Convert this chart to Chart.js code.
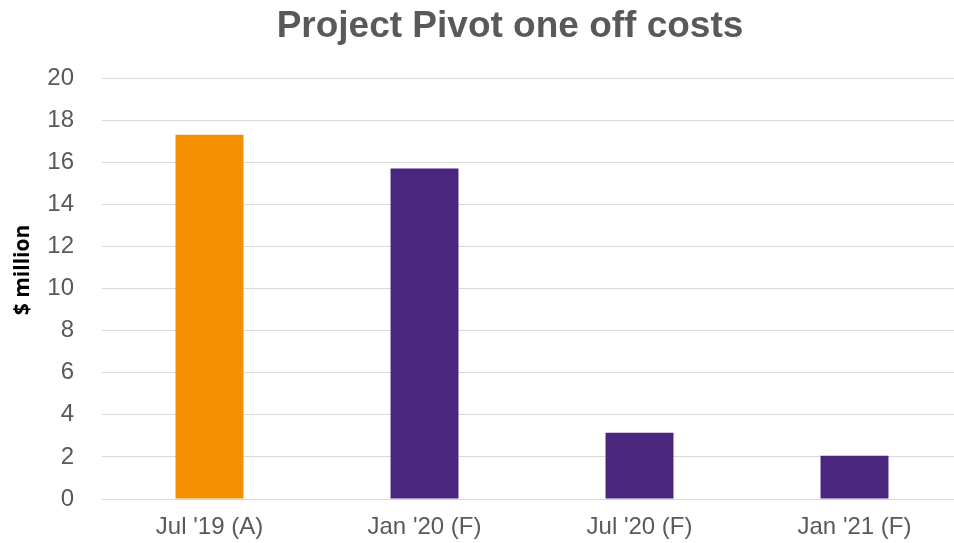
<!DOCTYPE html>
<html>
<head>
<meta charset="utf-8">
<script src="https://cdn.jsdelivr.net/npm/chart.js@4/dist/chart.umd.min.js"></script>
<style>
  html, body { margin: 0; padding: 0; background: #ffffff; overflow: hidden; width: 954px; height: 543px; }
  #wrap { width: 954px; height: 543px; overflow: hidden; position: relative; }
  canvas { display: block; }
</style>
</head>
<body>
<div id="wrap"><canvas id="c" width="962" height="543"></canvas></div>
<script>
const chartTitle = "Project Pivot one off costs";
const yAxisTitle = "$ million";
const categories = ["Jul '19 (A)", "Jan '20 (F)", "Jul '20 (F)", "Jan '21 (F)"];
const costs = [17.3, 15.7, 3.15, 2.05];
const yMin = 0, yMax = 20, yStep = 2;

const actualColor = "#F29000";
const forecastColor = "#4A267C";
const barColors = categories.map(c => c.indexOf("(A)") >= 0 ? actualColor : forecastColor);

// Draws the chart title and the vertical axis title as canvas text
const textTitles = {
  id: "textTitles",
  afterDraw(chart, args, opts) {
    const ctx = chart.ctx;
    ctx.save();
    ctx.fillStyle = "#595959";
    ctx.font = "bold 37px 'Liberation Sans', Arial, sans-serif";
    ctx.textAlign = "center";
    ctx.textBaseline = "alphabetic";
    ctx.fillText(opts.title, opts.titleX, opts.titleBaseline);

    ctx.fillStyle = "#000000";
    ctx.font = "bold 21px 'Open Sans', 'Noto Sans', sans-serif";
    ctx.translate(opts.yTitleX, opts.yTitleY);
    ctx.rotate(-Math.PI / 2);
    ctx.textAlign = "center";
    ctx.textBaseline = "middle";
    ctx.fillText(opts.yTitle, 0, 0);
    ctx.restore();
  }
};

new Chart(document.getElementById("c"), {
  type: "bar",
  data: {
    labels: categories,
    datasets: [{
      data: costs,
      backgroundColor: barColors,
      borderWidth: 0,
      barPercentage: 0.316,
      categoryPercentage: 1.0
    }]
  },
  plugins: [textTitles],
  options: {
    responsive: false,
    animation: false,
    devicePixelRatio: 1,
    layout: { padding: { left: 0, right: 0, top: 78, bottom: 1 } },
    plugins: {
      legend: { display: false },
      tooltip: { enabled: false },
      title: { display: false },
      textTitles: {
        title: chartTitle,
        titleX: 510,
        titleBaseline: 37,
        yTitle: yAxisTitle,
        yTitleX: 23,
        yTitleY: 270
      }
    },
    scales: {
      x: {
        afterFit(scale) { scale.height = 43; },
        grid: { display: false, drawTicks: false },
        border: { display: false },
        ticks: {
          color: "#595959",
          font: { family: "'Liberation Sans', Arial, sans-serif", size: 24 },
          padding: 14,
          maxRotation: 0
        }
      },
      y: {
        min: yMin,
        max: yMax,
        afterFit(scale) { scale.width = 102; scale.paddingBottom = 0; scale.paddingTop = 0; },
        grid: { color: "#d9d9d9", lineWidth: 1, drawTicks: false },
        border: { display: false },
        ticks: {
          stepSize: yStep,
          color: "#595959",
          font: { family: "'Liberation Sans', Arial, sans-serif", size: 24 },
          padding: 28
        }
      }
    }
  }
});
</script>
</body>
</html>
